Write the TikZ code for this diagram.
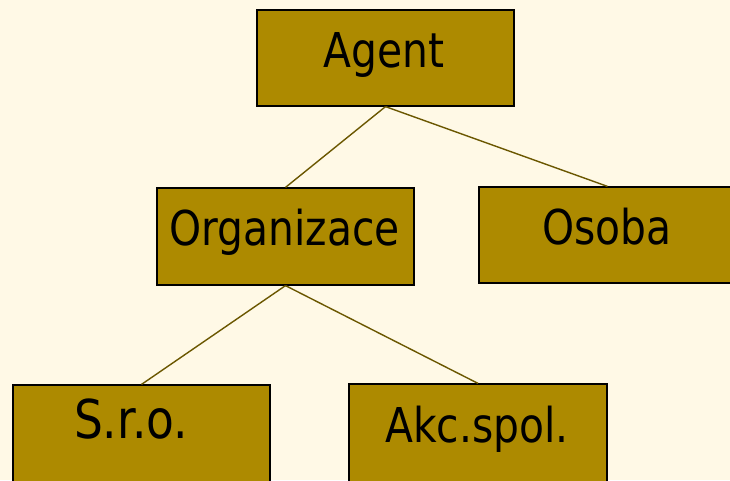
\documentclass[tikz,border=0pt]{standalone}
\usepackage{fontspec}
\setmainfont[FakeStretch=0.85]{DejaVu Sans}
\definecolor{bgcream}{HTML}{FFF9E6}
\definecolor{boxgold}{HTML}{AD8A00}
\definecolor{linkolive}{HTML}{6B5700}
\begin{document}
\begin{tikzpicture}[x=1pt,y=-1pt,
  classbox/.style={draw=black, line width=1.2pt, fill=boxgold, rectangle,
    minimum width=257pt, inner sep=0pt},
  classlabel/.style={anchor=base, inner sep=0pt, font=\fontsize{48}{56}\selectfont},
  biglabel/.style={anchor=base, inner sep=0pt, font=\fontsize{53.5}{62}\selectfont},
  link/.style={draw=linkolive, line width=1.4pt}]
  \useasboundingbox (0,0) rectangle (730,480);
  \fill[bgcream] (0,0) rectangle (730,480);
  \clip (0,0) rectangle (730,480);

  % class boxes
  \node[classbox, minimum height=96pt] (agent) at (385.5,58) {};
  \node[classbox, minimum height=97pt] (org) at (285.5,236.5) {};
  \node[classbox, minimum height=96pt] (osoba) at (607.5,235) {};
  \node[classbox, minimum height=104pt] (sro) at (141.5,437) {};
  \node[classbox, minimum width=258pt, minimum height=104pt] (akc) at (478,436) {};

  % hierarchy links
  \draw[link] (agent.south) -- (org.north);
  \draw[link] (agent.south) -- (osoba.north);
  \draw[link] (org.south) -- (sro.north);
  \draw[link] (org.south) -- (akc.north);

  % labels
  \node[classlabel] (tagent) at (384,67) {Agent};
  \node[classlabel] (torg) at (284.5,245) {Organizace};
  \node[classlabel] (tosoba) at (607,244) {Osoba};
  \node[biglabel] (tsro) at (131,438) {S.r.o.};
  \node[classlabel] (takc) at (477,442) {Akc.spol.};
\end{tikzpicture}
\end{document}
